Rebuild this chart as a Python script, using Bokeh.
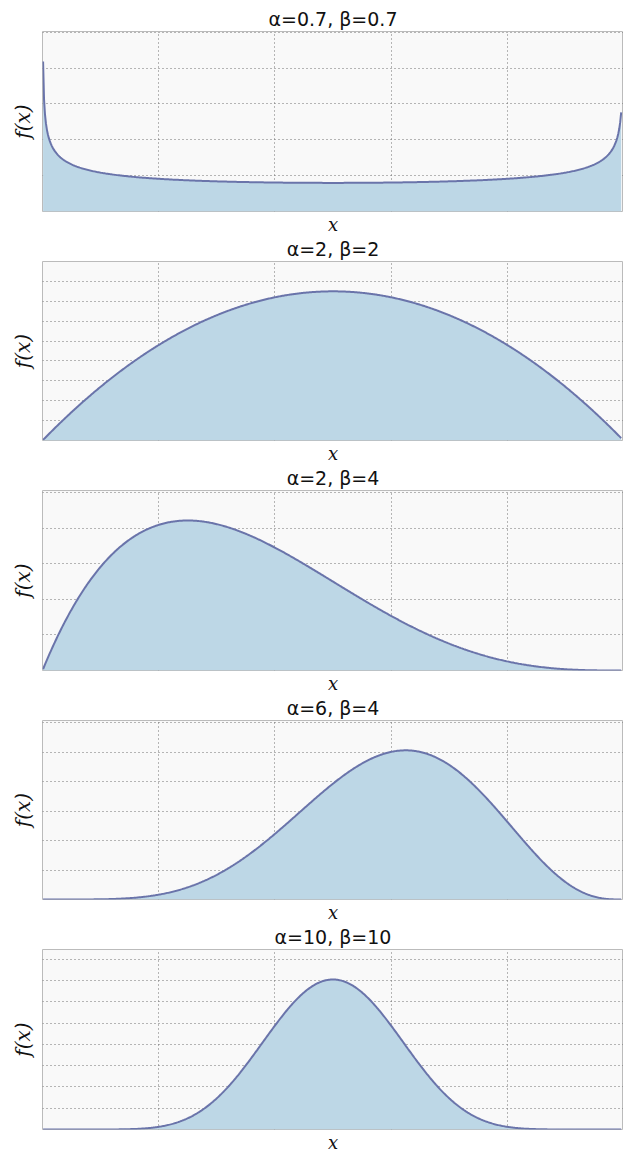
import math
import numpy as np
from bokeh.plotting import figure
from bokeh.layouts import column
from bokeh.models import Range1d, FixedTicker, Grid, Title
from bokeh.embed import file_html
from bokeh.resources import INLINE

# Beta distribution parameters shown in the panel titles
ALPHAS = [0.7, 2, 2, 6, 10]
BETAS = [0.7, 2, 4, 4, 10]
X_TICKS = [0.0, 0.2, 0.4, 0.6, 0.8, 1.0]
Y_TICK_STEP = [1.0, 0.2, 0.5, 0.5, 0.5]

X_GRID = np.linspace(0.001, 0.996, 600)

LINE_COLOR = "#6A74AA"
FILL_COLOR = "#BDD7E6"
BG_COLOR = "#F9F9F9"

FIG_W = 623
FRAME_H = 181
TOP_BORDERS = [31, 26, 27, 26, 26]
BOTTOM_BORDERS = [22, 22, 22, 22, 26]


def beta_pdf(x, a, b):
    lognorm = math.lgamma(a + b) - math.lgamma(a) - math.lgamma(b)
    return np.exp(lognorm + (a - 1) * np.log(x) + (b - 1) * np.log(1 - x))


def fmt(v):
    return "%g" % v


figs = []
for i, (a, b) in enumerate(zip(ALPHAS, BETAS)):
    y = beta_pdf(X_GRID, a, b)
    ymax = 1.2 * float(y.max())
    p = figure(width=FIG_W, height=TOP_BORDERS[i] + FRAME_H + BOTTOM_BORDERS[i],
               output_backend="svg", toolbar_location=None,
               x_axis_location=None, y_axis_location=None,
               min_border_left=41, min_border_right=0,
               min_border_top=TOP_BORDERS[i], min_border_bottom=BOTTOM_BORDERS[i],
               x_range=Range1d(0, 1), y_range=Range1d(0, ymax))
    p.center = [r for r in p.center if not isinstance(r, Grid)]
    p.background_fill_color = BG_COLOR
    p.border_fill_color = "white"
    p.outline_line_color = "#BBBBBB"
    p.outline_line_width = 1

    p.varea(x=X_GRID, y1=np.zeros_like(y), y2=y, fill_color=FILL_COLOR)
    p.line(X_GRID, y, line_color=LINE_COLOR, line_width=2)

    yt = [float(v) for v in np.arange(0, ymax + 1e-9, Y_TICK_STEP[i])]
    for dim, ticks in ((0, X_TICKS), (1, yt)):
        g = Grid(dimension=dim, ticker=FixedTicker(ticks=ticks),
                 grid_line_color="#707070", grid_line_dash="1 3",
                 grid_line_width=1)
        p.add_layout(g, "center")

    title = Title(text="α=%s, β=%s" % (fmt(a), fmt(b)), align="center",
                  text_font="DejaVu Sans", text_font_size="19px",
                  text_font_style="normal", text_color="#111111",
                  standoff=3)
    xlab = Title(text="x", align="center", text_font="DejaVu Serif",
                 text_font_style="italic", text_font_size="18px",
                 text_color="#111111", standoff=0)
    ylab = Title(text="f(x)", align="center", text_font="DejaVu Serif",
                 text_font_style="italic", text_font_size="20px",
                 text_color="#111111", standoff=16)
    p.add_layout(title, "above")
    p.add_layout(xlab, "below")
    p.add_layout(ylab, "left")
    figs.append(p)

layout = column(*figs, spacing=0)
open("out.html", "w").write(file_html(layout, INLINE))
